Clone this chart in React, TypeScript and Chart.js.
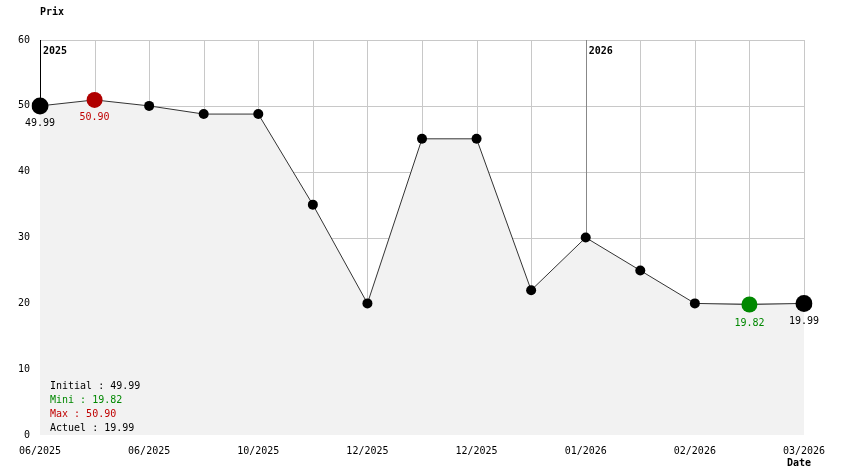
import React, { useEffect, useRef } from "react";
import { Chart, registerables } from "chart.js";

Chart.register(...registerables);

const categories = ["p0", "p1", "p2", "p3", "p4", "p5", "p6", "p7", "p8", "p9", "p10", "p11", "p12", "p13", "p14"];
const prices = [49.99, 50.9, 49.99, 48.75, 48.75, 34.99, 19.99, 44.99, 44.99, 21.99, 29.99, 24.99, 19.99, 19.82, 19.99];
const xTickLabels = ["06/2025", "06/2025", "10/2025", "12/2025", "12/2025", "01/2026", "02/2026", "03/2026"];
const yearMarkers = [
  { index: 0, label: "2025", color: "#000000" },
  { index: 10, label: "2026", color: "#888888" },
];
const maxIndex = 1;
const minIndex = 13;
const summaryLines = [
  { text: "Initial : 49.99", color: "#000000" },
  { text: "Mini : 19.82", color: "#008800" },
  { text: "Max : 50.90", color: "#c00000" },
  { text: "Actuel : 19.99", color: "#000000" },
];

const FONT = "'DejaVu Sans Mono', monospace";
const GRID = "#c8c8c8";

export default function App() {
  const ref = useRef<HTMLCanvasElement>(null);
  useEffect(() => {
    const canvas = ref.current!;
    const last = prices.length - 1;
    const pointColors = prices.map((_, i) => (i === maxIndex ? "#b00000" : i === minIndex ? "#008800" : "#000000"));
    const pointRadii = prices.map((_, i) => (i === 0 || i === last ? 8.5 : i === maxIndex || i === minIndex ? 8 : 5));

    const overlay = {
      id: "overlay",
      beforeDatasetsDraw(chart: any) {
        const { ctx, chartArea, scales } = chart;
        const pts = chart.getDatasetMeta(0).data;
        ctx.save();
        // grid only visible above the price line
        ctx.beginPath();
        ctx.moveTo(pts[0].x - 1, chartArea.top - 1);
        ctx.lineTo(pts[0].x - 1, pts[0].y);
        pts.forEach((p: any) => ctx.lineTo(p.x, p.y));
        ctx.lineTo(pts[pts.length - 1].x + 1, pts[pts.length - 1].y);
        ctx.lineTo(pts[pts.length - 1].x + 1, chartArea.top - 1);
        ctx.closePath();
        ctx.clip();
        ctx.lineWidth = 1;
        ctx.strokeStyle = GRID;
        ctx.beginPath();
        scales.x.ticks.forEach((_t: any, i: number) => {
          const x = Math.round(scales.x.getPixelForTick(i)) + 0.5;
          ctx.moveTo(x, chartArea.top);
          ctx.lineTo(x, chartArea.bottom);
        });
        scales.y.ticks.forEach((t: any) => {
          const y = Math.round(scales.y.getPixelForValue(t.value)) + 0.5;
          ctx.moveTo(chartArea.left, y);
          ctx.lineTo(chartArea.right + 1, y);
        });
        ctx.stroke();
        yearMarkers.forEach((m) => {
          const x = Math.round(scales.x.getPixelForValue(m.index)) + 0.5;
          ctx.strokeStyle = m.color;
          ctx.beginPath();
          ctx.moveTo(x, chartArea.top);
          ctx.lineTo(x, chartArea.bottom);
          ctx.stroke();
        });
        ctx.restore();
      },
      afterDraw(chart: any) {
        const { ctx, chartArea, scales } = chart;
        ctx.save();
        ctx.textBaseline = "middle";
        ctx.font = `bold 10px ${FONT}`;
        ctx.fillStyle = "#000";
        ctx.textAlign = "left";
        yearMarkers.forEach((m) => {
          const x = scales.x.getPixelForValue(m.index);
          ctx.fillText(m.label, x + 3, chartArea.top + 11);
        });
        ctx.fillText("Prix", chartArea.left, 12);
        ctx.textAlign = "right";
        ctx.fillText("Date", chartArea.right + 7, 463);
        ctx.font = `10px ${FONT}`;
        ctx.textAlign = "center";
        const lbl = (i: number, color: string, dy: number) => {
          ctx.fillStyle = color;
          ctx.fillText(prices[i].toFixed(2), scales.x.getPixelForValue(i), scales.y.getPixelForValue(prices[i]) + dy);
        };
        lbl(0, "#000000", 18);
        lbl(maxIndex, "#c00000", 17);
        lbl(minIndex, "#008800", 19);
        lbl(last, "#000000", 18);
        ctx.textAlign = "left";
        summaryLines.forEach((s, k) => {
          ctx.fillStyle = s.color;
          ctx.fillText(s.text, chartArea.left + 10, 386 + k * 14);
        });
        ctx.restore();
      },
    };

    const chart = new Chart(canvas, {
      type: "line",
      data: {
        labels: categories,
        datasets: [
          {
            data: prices,
            borderColor: "#333333",
            borderWidth: 1,
            backgroundColor: "#f2f2f2",
            fill: "origin",
            tension: 0,
            pointBackgroundColor: pointColors,
            pointBorderColor: pointColors,
            pointBorderWidth: 0,
            pointRadius: pointRadii,
          },
        ],
      },
      options: {
        animation: false,
        responsive: false,
        devicePixelRatio: 1,
        layout: { padding: { top: 40, right: 40, left: 0, bottom: 0 } },
        plugins: {
          legend: { display: false },
          tooltip: { enabled: false },
        },
        scales: {
          x: {
            type: "category",
            offset: false,
            border: { display: false },
            grid: { display: false, drawTicks: false },
            ticks: {
              autoSkip: false,
              maxRotation: 0,
              padding: 10,
              color: "#000",
              font: { family: FONT, size: 10 },
              callback: (_v: any, i: number) => (i % 2 === 0 ? xTickLabels[i / 2] : ""),
            },
            afterFit: (s: any) => {
              s.height = 39;
            },
          },
          y: {
            min: 0,
            max: 60,
            border: { display: false },
            grid: { display: false, drawTicks: false },
            ticks: {
              stepSize: 10,
              padding: 10,
              color: "#000",
              font: { family: FONT, size: 10 },
            },
            afterFit: (s: any) => {
              s.width = 40;
            },
          },
        },
      },
      plugins: [overlay],
    } as any);
    return () => chart.destroy();
  }, []);

  return (
    <div style={{ position: "absolute", left: 0, top: 0, width: 844, height: 474, background: "#fff" }}>
      <canvas ref={ref} width={844} height={474} style={{ width: 844, height: 474 }} />
    </div>
  );
}
